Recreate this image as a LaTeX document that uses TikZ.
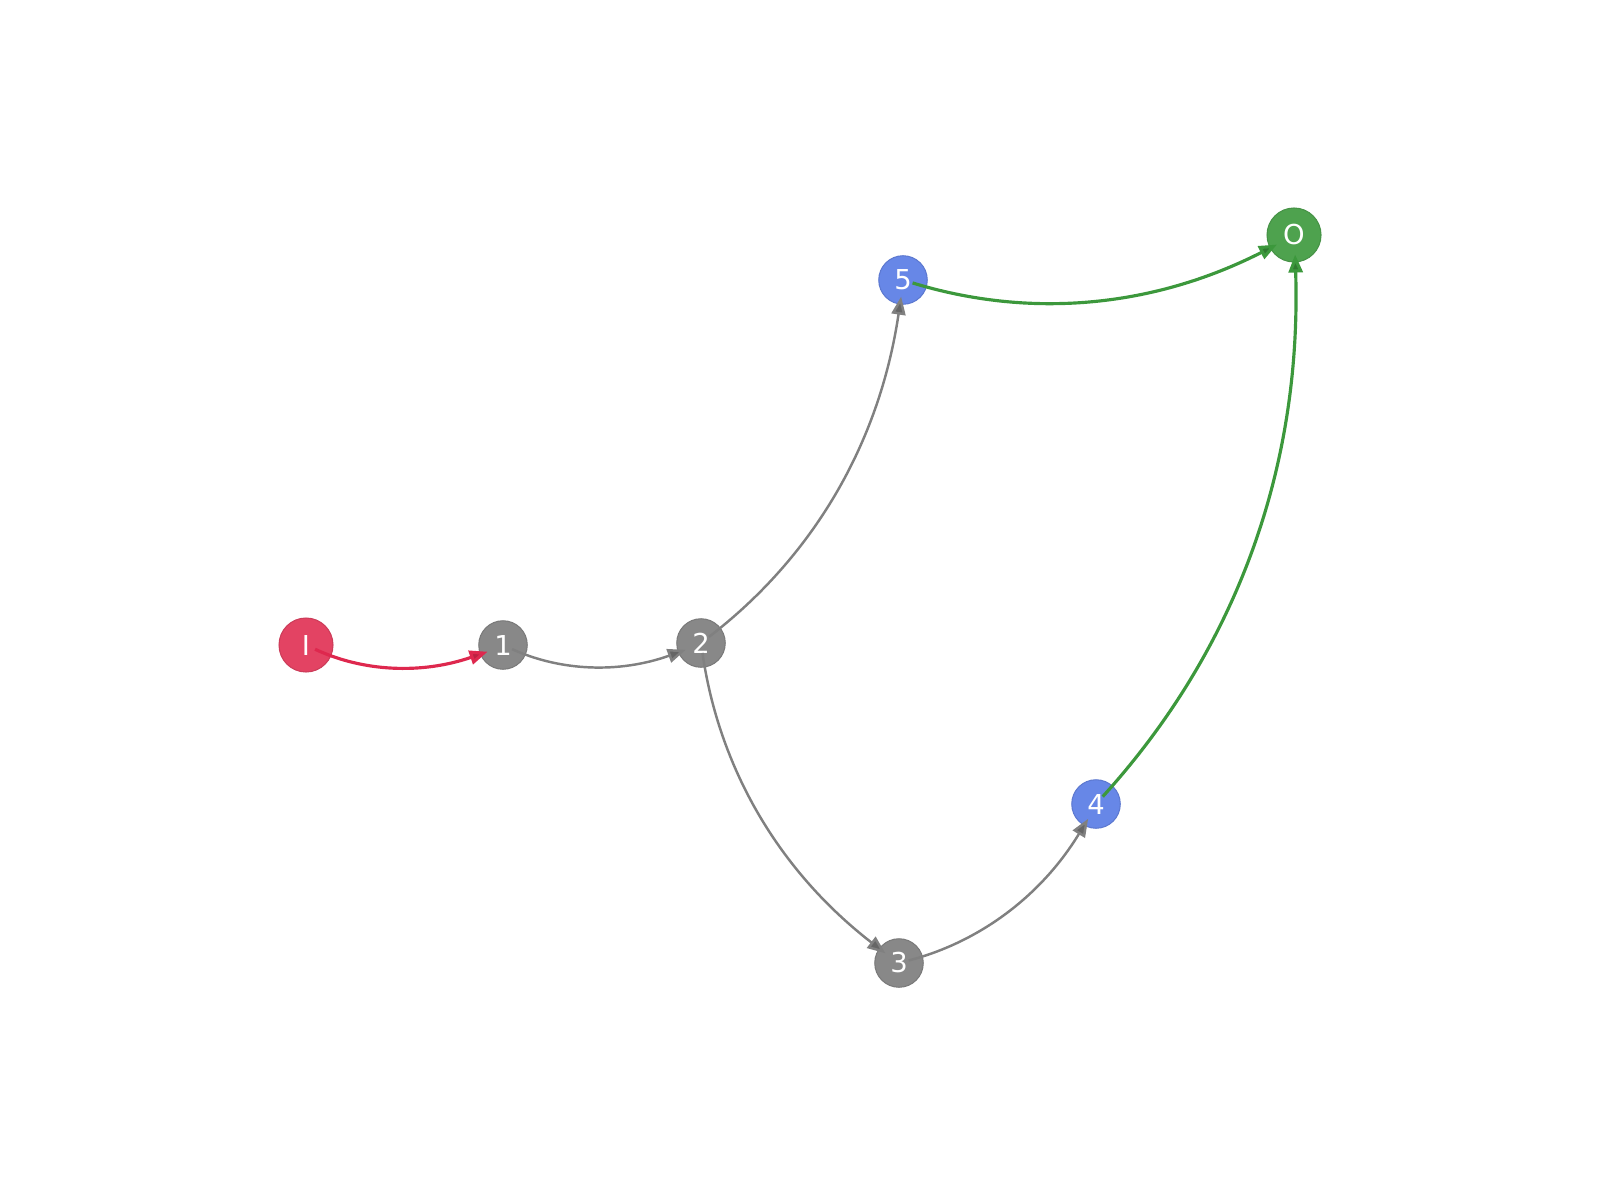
\documentclass[tikz,border=0pt]{standalone}
\usepackage{fontspec}
\setmainfont{DejaVu Sans}
\usepackage{xcolor}
\usepackage{tikz}
\usetikzlibrary{arrows.meta}
\definecolor{inred}{RGB}{227,67,99}
\definecolor{inredline}{RGB}{222,40,78}
\definecolor{hidgray}{RGB}{136,136,136}
\definecolor{hidgrayline}{RGB}{128,128,128}
\definecolor{outblue}{RGB}{103,135,231}
\definecolor{outgreen}{RGB}{78,162,78}
\definecolor{outgreenline}{RGB}{60,152,60}
\tikzset{
input neuron/.style = { circle, draw = inred!90!black, line width = 0.3pt, fill = inred, minimum size = 5.4mm, inner sep = 0pt, text = white, font = \fontsize{7.8}{9}\selectfont },
hidden neuron/.style = { circle, draw = hidgray!90!black, line width = 0.3pt, fill = hidgray, minimum size = 4.85mm, inner sep = 0pt, text = white, font = \fontsize{7.8}{9}\selectfont },
skip neuron/.style = { circle, draw = outblue!90!black, line width = 0.3pt, fill = outblue, minimum size = 4.85mm, inner sep = 0pt, text = white, font = \fontsize{7.8}{9}\selectfont },
output neuron/.style = { circle, draw = outgreen!90!black, line width = 0.3pt, fill = outgreen, minimum size = 5.4mm, inner sep = 0pt, text = white, font = \fontsize{7.8}{9}\selectfont },
link/.style = { bend right = 22, looseness = 0.92, shorten < = 1mm, shorten > = -0.8mm },
red link/.style = { link, draw = inredline, line width = 0.9pt, -{Triangle[length = 1.8mm, width = 1.4mm, fill = inredline!85!black]} },
gray link/.style = { link, draw = hidgrayline, line width = 0.7pt, -{Triangle[length = 1.8mm, width = 1.4mm, fill = hidgrayline!80!black]} },
green link/.style = { link, draw = outgreenline, line width = 0.9pt, -{Triangle[length = 1.8mm, width = 1.4mm, fill = outgreenline!80!black]} },
}
\begin{document}
\begin{tikzpicture}
    \useasboundingbox (0, 0) rectangle (16, 12);
    \node[input neuron] (in) at (3.06, 5.55) {I};
    \node[hidden neuron] (h1) at (5.03, 5.55) {1};
    \node[hidden neuron] (h2) at (7.01, 5.57) {2};
    \node[hidden neuron] (h3) at (8.99, 2.37) {3};
    \node[skip neuron] (h4) at (10.96, 3.96) {4};
    \node[skip neuron] (h5) at (9.03, 9.20) {5};
    \node[output neuron] (out) at (12.94, 9.65) {O};
    \draw[red link] (in.center) to (h1);
    \draw[gray link] (h1.center) to (h2);
    \draw[gray link] (h2.center) to (h5);
    \draw[gray link] (h2.center) to (h3);
    \draw[gray link] (h3.center) to (h4);
    \draw[green link] (h4.center) to (out);
    \draw[green link] (h5.center) to (out);
  \end{tikzpicture}
\end{document}
